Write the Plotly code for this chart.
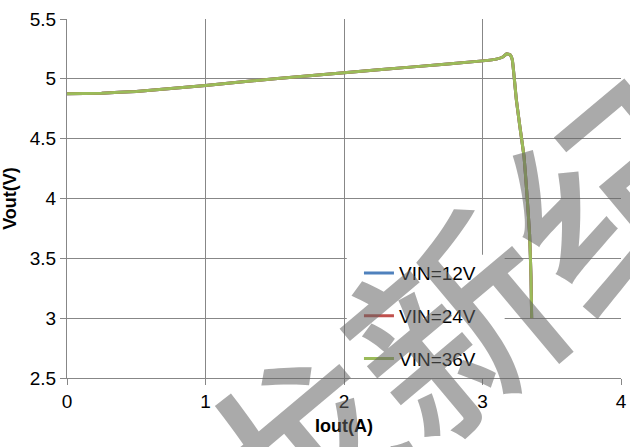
import plotly.graph_objects as go

iout = [0.0, 0.25, 0.5, 0.75, 1.0, 1.5, 2.0, 2.5, 3.0, 3.1, 3.15, 3.175, 3.2, 3.215, 3.245, 3.27, 3.30, 3.32, 3.34, 3.35, 3.355]
vout_12 = [4.875, 4.88, 4.895, 4.92, 4.945, 5.0, 5.05, 5.10, 5.15, 5.165, 5.185, 5.21, 5.20, 5.16, 4.82, 4.6, 4.35, 4.05, 3.7, 3.35, 3.0]
vout_24 = [4.875, 4.88, 4.895, 4.92, 4.945, 5.0, 5.05, 5.10, 5.15, 5.165, 5.185, 5.21, 5.20, 5.16, 4.82, 4.6, 4.35, 4.05, 3.7, 3.35, 3.0]
vout_36 = [4.875, 4.88, 4.895, 4.92, 4.945, 5.0, 5.05, 5.10, 5.15, 5.165, 5.185, 5.21, 5.20, 5.16, 4.82, 4.6, 4.35, 4.05, 3.7, 3.35, 3.0]

names = ["VIN=12V", "VIN=24V", "VIN=36V"]
colors = ["#4F81BD", "#C0504D", "#9BBB59"]
x_ticks = [0, 1, 2, 3, 4]
y_ticks = [2.5, 3, 3.5, 4, 4.5, 5, 5.5]

FONT = "Liberation Sans, Arial, sans-serif"
GRID = "#878787"

fig = go.Figure()
for i, (name, vals) in enumerate(zip(names, [vout_12, vout_24, vout_36])):
    fig.add_trace(go.Scatter(x=iout, y=vals, mode="lines", name=name,
                             legendgroup=name,
                             line=dict(color=colors[i], width=3, shape="spline", smoothing=0.3)))

# white legend background box covering gridlines
fig.add_shape(type="rect", xref="x", yref="y", x0=2.02, x1=3.16, y0=2.5, y1=3.53,
              fillcolor="white", line=dict(width=0), layer="between")

fig.update_layout(
    width=630, height=447,
    margin=dict(l=67, r=3, t=19, b=69),
    paper_bgcolor="white", plot_bgcolor="white",
    font=dict(family=FONT, size=19, color="#000000"),
    showlegend=True,
    legend=dict(x=0.527, y=0.345, xanchor="left", yanchor="top",
                bgcolor="rgba(0,0,0,0)", font=dict(size=19, color="#000"),
                traceorder="grouped", tracegroupgap=15, itemwidth=30),
    xaxis=dict(range=[0, 4], tickvals=x_ticks, ticktext=[str(v) for v in x_ticks],
               showgrid=True, gridcolor=GRID, gridwidth=1,
               showline=True, linecolor=GRID, linewidth=1,
               ticks="outside", ticklen=6, tickcolor=GRID,
               zeroline=False, ticklabeloverflow="allow",
               title=dict(text="<b>Iout(A)</b>", font=dict(size=18), standoff=8)),
    yaxis=dict(range=[2.5, 5.5], tickvals=y_ticks, ticktext=[f"{v:g}" for v in y_ticks],
               showgrid=True, gridcolor=GRID, gridwidth=1,
               showline=True, linecolor=GRID, linewidth=1,
               ticks="outside", ticklen=6, tickcolor=GRID,
               zeroline=False,
               title=dict(text="<b>Vout(V)</b>", font=dict(size=18), standoff=8)),
)

# watermark
fig.add_annotation(xref="paper", yref="paper", x=0.69, y=0.165, xanchor="center", yanchor="middle",
                   text="龙新纪", showarrow=False, textangle=-40,
                   font=dict(family="Noto Sans CJK SC", size=205, weight=500,
                             color="rgba(100,100,100,0.55)"))

fig.write_html("out.html")
